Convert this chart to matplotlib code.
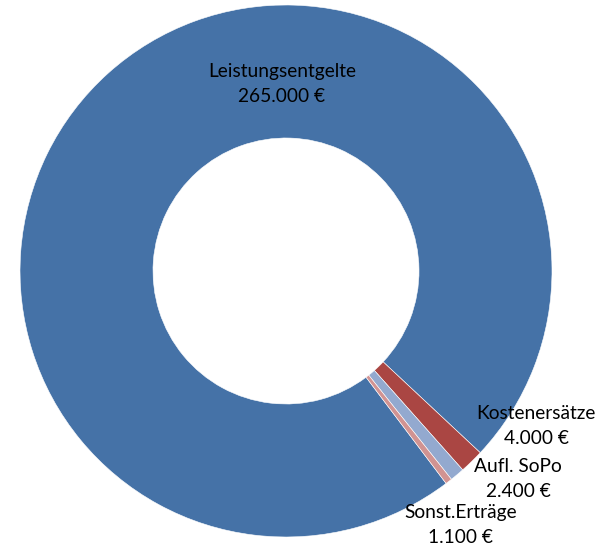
import matplotlib as mpl
mpl.use("Agg")
import matplotlib.pyplot as plt

# chart data
labels = ["Leistungsentgelte", "Kostenersätze", "Aufl. SoPo", "Sonst.Erträge"]
values = [265000, 4000, 2400, 1100]
colors = ["#4572A7", "#AA4643", "#93A9CF", "#D19392"]

W, H = 608, 548
fig = plt.figure(figsize=(W / 100, H / 100), dpi=100)
ax = fig.add_axes([0, 0, 1, 1])

cx, cy, r = 286, H - 271, 266
ax.pie(values, colors=colors, startangle=307, counterclock=False,
       center=(cx, cy), radius=r, frame=True,
       wedgeprops=dict(width=r * 0.5, edgecolor="white", linewidth=0.4))
ax.set_xlim(0, W)
ax.set_ylim(0, H)
ax.set_aspect("equal")
ax.axis("off")


def fmt(v):
    return "{:,}".format(v).replace(",", ".") + " €"


# label anchor points (image pixels, y down)
label_pos = [(282, 84), (536, 426), (518, 479), (461, 525)]
for name, v, (x, y) in zip(labels, values, label_pos):
    ax.text(x, H - y, name + "\n" + fmt(v), ha="center", va="center",
            fontsize=13.8, family="Lato", linespacing=1.6, color="black")

fig.savefig("out.png", dpi=100)
